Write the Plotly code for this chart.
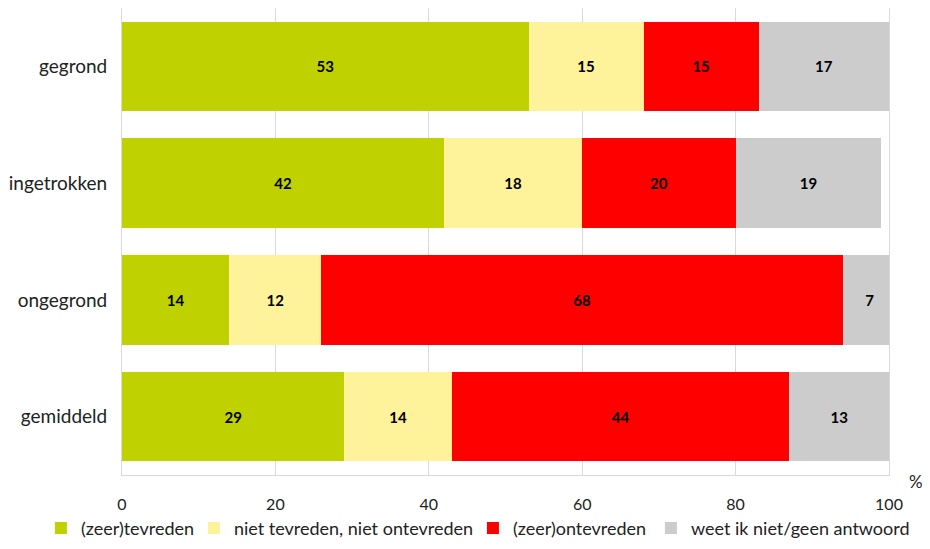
import plotly.graph_objs as go

# categories (top to bottom as in the chart)
categories = ['gegrond', 'ingetrokken', 'ongegrond', 'gemiddeld']

# series values in %
tevreden = [53, 42, 14, 29]
neutraal = [15, 18, 12, 14]
ontevreden = [15, 20, 68, 44]
weet_niet = [17, 19, 7, 13]

series_names = ['(zeer)tevreden', 'niet tevreden, niet ontevreden',
                '(zeer)ontevreden', 'weet ik niet/geen antwoord']
colors = ['#BFD200', '#FEF29B', '#FF0000', '#CCCCCC']
# legend entry widths so the items sit where they do in the original
legend_widths = [108, 234, 133, 216]

font_family = 'Lato, Open Sans, sans-serif'

data = []
for name, vals, col, lw in zip(series_names, [tevreden, neutraal, ontevreden, weet_niet],
                               colors, legend_widths):
    data.append(go.Bar(
        y=categories, x=vals, name=name, orientation='h',
        marker=dict(color=col, line=dict(width=0)),
        text=vals, textposition='inside', insidetextanchor='middle',
        textfont=dict(family=font_family, size=15, color='black', weight='bold'),
        hoverinfo='x+name', legendwidth=lw,
    ))

# page body has an 8px margin, so the figure is smaller than the window
layout = go.Layout(
    barmode='stack', bargap=0.235,
    width=914, height=533,
    margin=dict(l=114, r=33, t=0, b=66, autoexpand=False),
    plot_bgcolor='white', paper_bgcolor='white',
    font=dict(family=font_family, size=16, color='#222222'),
    xaxis=dict(range=[0, 100], dtick=20, showgrid=True, gridcolor='#D9D9D9',
               gridwidth=1, showline=True, linecolor='#D9D9D9', mirror=True,
               zeroline=False, ticks='', ticklabelstandoff=15,
               tickfont=dict(size=16)),
    yaxis=dict(autorange='reversed', showline=True, linecolor='#D9D9D9',
               mirror=True, ticks='', ticklabelstandoff=10,
               tickfont=dict(size=19)),
    legend=dict(orientation='h', x=-0.1057, xanchor='left', y=-0.0745, yanchor='top',
                font=dict(size=18), traceorder='normal', itemwidth=30),
    annotations=[dict(text='%', x=1.0, xref='paper', xanchor='left', xshift=18,
                      y=0, yref='paper', yanchor='top', yshift=6,
                      showarrow=False, font=dict(size=17))],
)

fig = go.Figure(data=data, layout=layout)
fig.write_html('out.html')
